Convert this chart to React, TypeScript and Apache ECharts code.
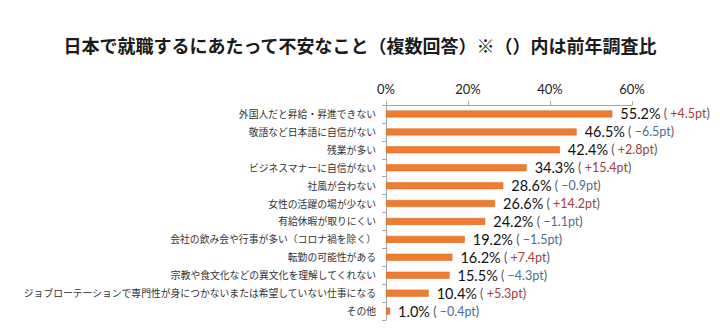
import React, { useEffect, useRef } from "react";
import * as echarts from "echarts";

const title = "日本で就職するにあたって不安なこと（複数回答）※（）内は前年調査比";
const categories = [
  "外国人だと昇給・昇進できない",
  "敬語など日本語に自信がない",
  "残業が多い",
  "ビジネスマナーに自信がない",
  "社風が合わない",
  "女性の活躍の場が少ない",
  "有給休暇が取りにくい",
  "会社の飲み会や行事が多い（コロナ禍を除く）",
  "転勤の可能性がある",
  "宗教や食文化などの異文化を理解してくれない",
  "ジョブローテーションで専門性が身につかないまたは希望していない仕事になる",
  "その他",
];
const values = [55.2, 46.5, 42.4, 34.3, 28.6, 26.6, 24.2, 19.2, 16.2, 15.5, 10.4, 1.0];
const changes = [4.5, -6.5, 2.8, 15.4, -0.9, 14.2, -1.1, -1.5, 7.4, -4.3, 5.3, -0.4];
const xTicks = [0, 20, 40, 60];

const LAT = 'Lato, "Open Sans", sans-serif';
const CJK = '"Noto Sans CJK JP", "Noto Sans", sans-serif';

export default function App() {
  const ref = useRef<HTMLDivElement>(null);
  useEffect(() => {
    document.body.style.margin = "0";
    const chart = echarts.init(ref.current!, undefined, { renderer: "svg" });
    chart.setOption({
      animation: false,
      backgroundColor: "#ffffff",
      title: {
        text: title,
        left: "center",
        top: 31,
        textStyle: { fontFamily: CJK, fontSize: 18, fontWeight: "bold", color: "#1a1a1a" },
      },
      grid: { left: 386, right: 88, top: 105, bottom: 10, containLabel: false },
      xAxis: {
        type: "value",
        position: "top",
        min: xTicks[0],
        max: xTicks[xTicks.length - 1],
        interval: 20,
        axisLine: { show: true, lineStyle: { color: "#A6A6A6", width: 1 } },
        axisTick: { show: true, length: 4, lineStyle: { color: "#A6A6A6" } },
        splitLine: { show: false },
        axisLabel: {
          formatter: "{value}%",
          fontFamily: LAT,
          fontSize: 13,
          color: "#222",
          margin: 10,
        },
      },
      yAxis: {
        type: "category",
        inverse: true,
        data: categories,
        axisLine: { show: true, lineStyle: { color: "#A6A6A6", width: 1 } },
        axisTick: { show: true, length: 4, lineStyle: { color: "#A6A6A6" } },
        axisLabel: { fontFamily: CJK, fontSize: 9.8, color: "#333", margin: 10 },
      },
      series: [
        {
          type: "bar",
          data: values,
          barWidth: 7,
          itemStyle: { color: "#EE7D31", borderColor: "#D4651C", borderWidth: 0.5 },
          label: {
            show: true,
            position: "right",
            distance: 8,
            formatter: (p: any) => {
              const c = changes[p.dataIndex];
              const s = c >= 0 ? `{pos|+${c.toFixed(1)}pt}` : `{neg|−${Math.abs(c).toFixed(1)}pt}`;
              return `{v|${values[p.dataIndex].toFixed(1)}%}{p| ( }${s}{p|)}`;
            },
            rich: {
              v: { fontFamily: LAT, fontSize: 14.5, color: "#111" },
              p: { fontFamily: LAT, fontSize: 12.5, color: "#555" },
              pos: { fontFamily: LAT, fontSize: 12.5, color: "#A0403C" },
              neg: { fontFamily: LAT, fontSize: 12.5, color: "#4C6E94" },
            },
          },
        },
      ],
    });
    return () => chart.dispose();
  }, []);
  return <div ref={ref} style={{ width: 720, height: 330 }} />;
}
